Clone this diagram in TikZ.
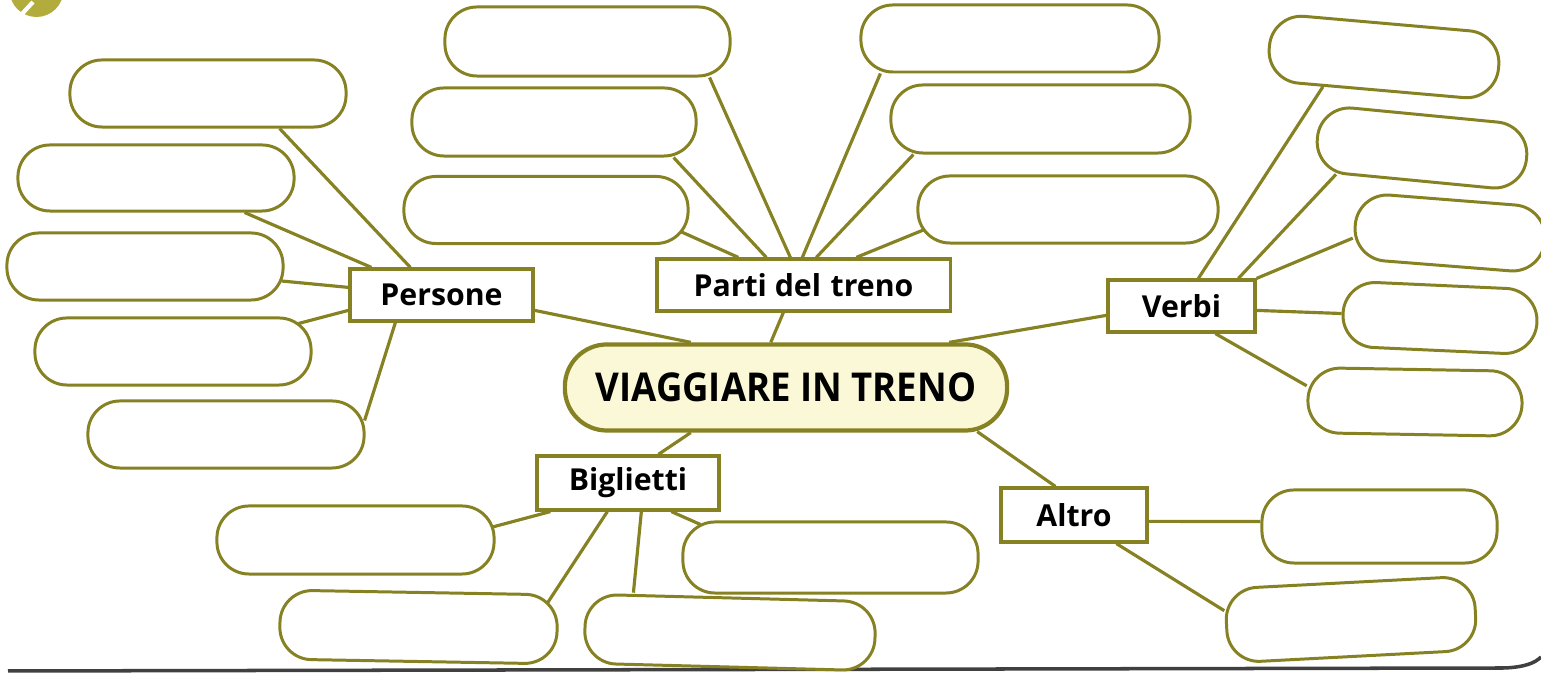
\documentclass[tikz,border=0pt]{standalone}
\usepackage{fontspec}
\setmainfont{Open Sans}
\usetikzlibrary{calc,backgrounds}
\definecolor{olv}{RGB}{134,129,34}
\definecolor{cfill}{RGB}{250,248,214}
\definecolor{iconfill}{RGB}{178,172,60}
\begin{document}
\begin{tikzpicture}[x=0.01cm,y=-0.01cm,
  pill/.style={draw=olv, line width=0.85pt, fill=white, rounded corners=0.32cm, minimum height=0.67cm, inner sep=0pt},
  lbl/.style={draw=olv, line width=0.9pt, fill=white, inner sep=0pt, minimum height=0.52cm, font=\bfseries\fontsize{8.6}{10}\selectfont},
  conn/.style={draw=olv, line width=0.9pt}]
\useasboundingbox (0,0) rectangle (1541,674);
% icon
\fill[iconfill] (36.5,-10) circle (27);
\draw[white, line width=1.2pt] (22,14) -- (33,2);
% frame line
\draw[black!75, line width=1pt] (8,671) -- (1505,668) .. controls (1525,667) and (1535,663) .. (1541,657);

% central node
\node[draw=olv, line width=1.2pt, fill=cfill, rounded corners=0.42cm, minimum width=4.42cm, minimum height=0.86cm, inner sep=0pt,
  font=\bfseries\fontsize{11.3}{14}\selectfont] (center) at (786,387.5) {\scalebox{0.92}[1]{VIAGGIARE IN TRENO}};

% category boxes
\node[lbl, minimum width=1.83cm] (persone) at (441.5,295) {Persone};
\node[lbl, minimum width=2.93cm] (parti) at (803.5,285) {Parti del\hspace{0.06em} treno};
\node[lbl, minimum width=1.47cm] (verbi) at (1181.5,306) {Verbi};
\node[lbl, minimum width=1.82cm, minimum height=0.54cm] (biglietti) at (628,483) {Biglietti};
\node[lbl, minimum width=1.46cm, minimum height=0.54cm] (altro) at (1074,515) {Altro};

% Persone pills
\node[pill, minimum width=2.76cm] (L1) at (208,93.5) {};
\node[pill, minimum width=2.76cm, minimum height=0.66cm] (L2) at (156,178) {};
\node[pill, minimum width=2.76cm] (L3) at (145,266.5) {};
\node[pill, minimum width=2.76cm] (L4) at (173,351.5) {};
\node[pill, minimum width=2.76cm] (L5) at (226,434.5) {};
% Parti pills
\node[pill, minimum width=2.85cm, minimum height=0.69cm] (T1) at (587.5,41.5) {};
\node[pill, minimum width=2.84cm, minimum height=0.68cm] (T2) at (554,122) {};
\node[pill, minimum width=2.84cm] (T3) at (546,210) {};
\node[pill, minimum width=2.98cm] (T4) at (1010,38.5) {};
\node[pill, minimum width=2.99cm, minimum height=0.68cm] (T5) at (1040.5,119) {};
\node[pill, minimum width=3.00cm] (T6) at (1068,209.5) {};
% Verbi pills
\node[pill, minimum width=2.30cm, rotate=-5] (V1) at (1384,57) {};
\node[pill, minimum width=2.10cm, minimum height=0.66cm, rotate=-5.5] (V2) at (1422,148) {};
\node[pill, minimum width=1.90cm, minimum height=0.66cm, rotate=-4.5] (V3) at (1450,233) {};
\node[pill, minimum width=1.94cm, minimum height=0.65cm, rotate=-2.6] (V4) at (1440,318) {};
\node[pill, minimum width=2.14cm, minimum height=0.65cm, rotate=-1] (V5) at (1415,402) {};
% Biglietti pills
\node[pill, minimum width=2.77cm, minimum height=0.68cm] (B1) at (355.5,540) {};
\node[pill, minimum width=2.77cm, minimum height=0.69cm, rotate=-1] (B2) at (418.5,627) {};
\node[pill, minimum width=2.90cm, minimum height=0.69cm, rotate=-1.5] (B3) at (730,632.5) {};
\node[pill, minimum width=2.95cm, minimum height=0.71cm] (B4) at (830.5,557.5) {};
% Altro pills
\node[pill, minimum width=2.35cm, minimum height=0.73cm] (A1) at (1379.5,526.5) {};
\node[pill, minimum width=2.49cm, minimum height=0.74cm, rotate=3] (A2) at (1351,619.5) {};

\begin{scope}[on background layer]
% Persone
\draw[conn] ($(persone.north west)+(62,0)$) -- ($(L1.south east)+(-68,0)$);
\draw[conn] ($(persone.north west)+(23,0)$) -- ($(L2.south east)+(-51,0)$);
\draw[conn] ($(persone.north west)+(0,20)$) -- ($(L3.east)+(-3,14.5)$);
\draw[conn] ($(persone.north west)+(0,43)$) -- ($(L4.north east)+(-14,7)$);
\draw[conn] ($(persone.south west)+(47,0)$) -- ($(L5.east)+(-1,-14)$);
\draw[conn] ($(persone.north east)+(0,43)$) -- ($(center.north west)+(128,0)$);
% Parti del treno
\draw[conn] ($(parti.north west)+(135,0)$) -- ($(T1.south east)+(-22,0)$);
\draw[conn] ($(parti.north west)+(111,0)$) -- ($(T2.south east)+(-24,0)$);
\draw[conn] ($(parti.north west)+(83,0)$) -- ($(T3.east)+(-8,22)$);
\draw[conn] ($(parti.north west)+(147,0)$) -- ($(T4.south west)+(21,0)$);
\draw[conn] ($(parti.north west)+(161,0)$) -- ($(T5.south west)+(24,0)$);
\draw[conn] ($(parti.north west)+(201,0)$) -- ($(T6.west)+(7,20.5)$);
\draw[conn] ($(parti.south west)+(128,0)$) -- ($(center.north west)+(208,0)$);
% Verbi
\draw[conn] ($(verbi.north west)+(92,0)$) -- ($(V1.south west)!0.25!(V1.south east)$);
\draw[conn] ($(verbi.north west)+(132,0)$) -- ($(V2.south west)!0.11!(V2.south east)$);
\draw[conn] (verbi.north east) -- ($(V3.west)!0.37!(V3.south west)$);
\draw[conn] ($(verbi.north east)+(0,32)$) -- (V4.west);
\draw[conn] ($(verbi.south west)+(109,0)$) -- ($(V5.west)!0.42!(V5.north west)$);
\draw[conn] ($(verbi.north west)+(0,37)$) -- ($(center.north east)+(-60,0)$);
% Biglietti
\draw[conn] ($(center.south west)+(128,0)$) -- ($(biglietti.north west)+(123,0)$);
\draw[conn] ($(biglietti.south west)+(15,0)$) -- ($(B1.east)+(-3,-13)$);
\draw[conn] ($(biglietti.south west)+(72,0)$) -- ($(B2.north east)+(-12,10)$);
\draw[conn] ($(biglietti.south west)+(106,0)$) -- ($(B3.north west)+(49,0)$);
\draw[conn] ($(biglietti.south west)+(136,0)$) -- ($(B4.north west)+(19,4)$);
% Altro
\draw[conn] ($(center.south east)+(-32,-1)$) -- ($(altro.north west)+(56,0)$);
\draw[conn] ($(altro.north east)+(0,35)$) -- ($(A1.west)+(0,-5)$);
\draw[conn] ($(altro.south west)+(117,0)$) -- ($(A2.west)!0.4!(A2.north west)$);
\end{scope}
\end{tikzpicture}
\end{document}
